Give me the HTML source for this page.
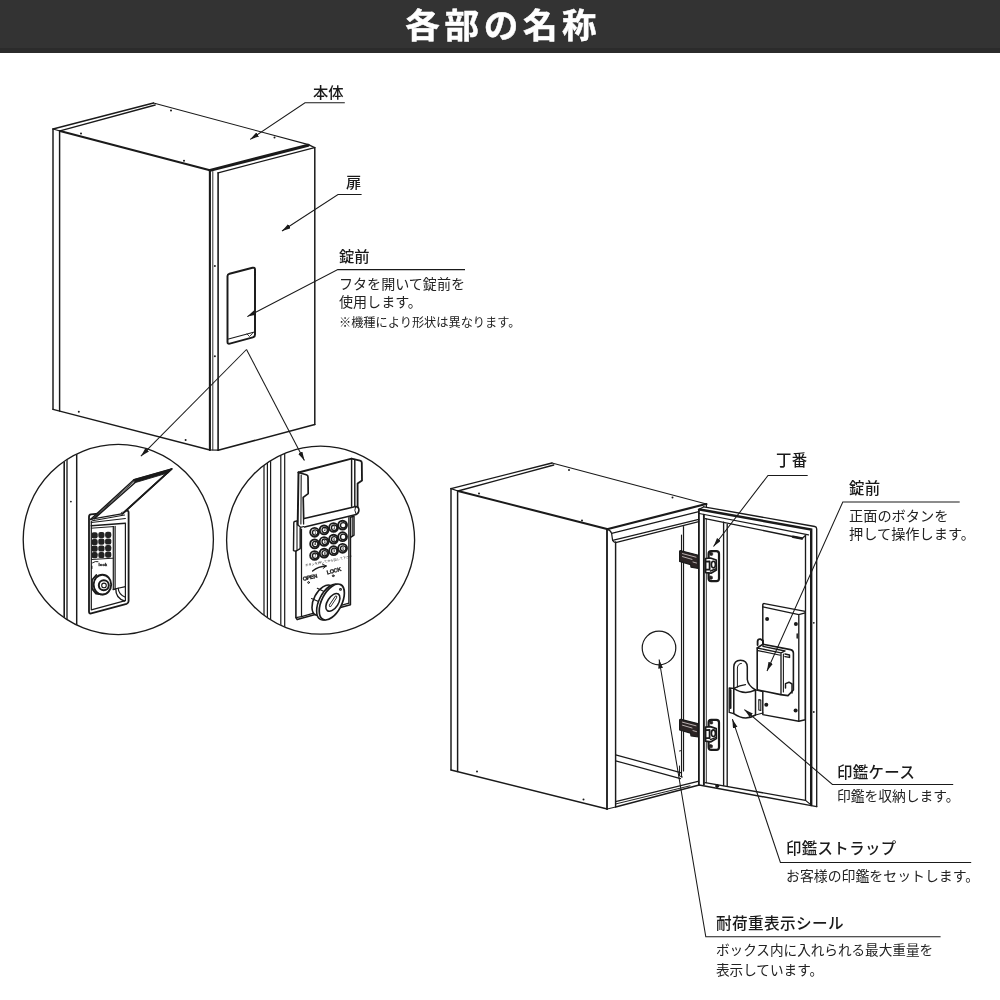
<!DOCTYPE html>
<html lang="ja">
<head>
<meta charset="utf-8">
<title>各部の名称</title>
<style>
html,body{margin:0;padding:0;background:#fff;}
body{width:1000px;height:1000px;position:relative;overflow:hidden;font-family:"Liberation Sans","Noto Sans CJK JP",sans-serif;color:#1a1a1a;}
#hd{position:absolute;left:0;top:0;width:1000px;height:53px;background:#333;}
#hd .bar{position:absolute;left:0;top:48px;width:1000px;height:5px;background:#2b2b2b;}
#hd h1{will-change:transform;position:absolute;left:0;top:0;width:1000px;margin:0;text-align:center;color:#fff;font-size:34.6px;font-weight:700;line-height:52px;letter-spacing:4.6px;text-indent:6.6px;-webkit-text-stroke:0.5px #fff;}
svg{position:absolute;left:0;top:0;}
.t{position:absolute;white-space:nowrap;line-height:1;will-change:transform;}
.n{font-size:15.3px;font-weight:500;}
.d{font-size:14.05px;font-weight:400;line-height:18px;color:#222;}
.r{font-size:15.4px;letter-spacing:0.4px;}
.s{font-size:12.2px;font-weight:400;color:#222;}
</style>
</head>
<body>
<div id="hd"><div class="bar"></div><h1>各部の名称</h1></div>
<svg width="1000" height="1000" viewBox="0 0 1000 1000">
<defs>
<marker id="ah" markerWidth="10" markerHeight="6" refX="9" refY="2.4" orient="auto" markerUnits="userSpaceOnUse"><path d="M0,0 L9,2.4 L0,4.8 z" fill="#1a1a1a" stroke="none"/></marker>
<clipPath id="c1"><circle cx="118.3" cy="539.5" r="94.8"/></clipPath>
<clipPath id="c2"><circle cx="320.6" cy="540.2" r="93.6"/></clipPath>
</defs>
<g id="box1" fill="none" stroke="#1a1a1a" stroke-width="1.22" stroke-linecap="round" stroke-linejoin="round">
<!-- BOX1 -->
<!-- top face -->
<path d="M153.5,103 L53,129 M155.2,105 L60,130.8" stroke-width="1.34"/>
<path d="M60,131 L209.9,170.2" stroke-width="2.07"/>
<path d="M153.5,103 L308.5,144.6" stroke-width="1.10"/>
<!-- left edge -->
<path d="M53,129 L53,409.3 M59.6,131 L59.6,411" stroke-width="1.46"/>
<path d="M53,129 L60,131"/>
<!-- bottom left -->
<path d="M53,409.3 L209.9,450" stroke-width="1.34"/>
<!-- front-left vertical -->
<path d="M209.9,170.2 L209.9,450" stroke-width="2.1"/>
<path d="M212.8,171.5 L212.8,450" stroke-width="0.9"/>
<path d="M218.1,172.8 L218.1,450.2" stroke-width="1.6"/>
<path d="M209.9,450 L218.1,450.2"/>
<!-- door top band -->
<path d="M210,170.4 L308.2,145.2" stroke-width="3"/>
<path d="M218.1,172.8 L314.6,147.6" stroke-width="1.3"/>
<path d="M308.5,144.6 L314.6,147.6" stroke-width="1.2"/>
<!-- right edge and door bottom -->
<path d="M314.8,147.6 L314.8,424.5" stroke-width="1.5"/>
<path d="M218.1,450.2 L314.8,424.5" stroke-width="1.46"/>
<!-- lock cover -->
<path d="M229.5,273.7 L252.5,267.8 Q255,267.2 255,269.5 L255,334.5 Q255,336.8 252.8,337.4 L229.8,343.6 Q227.5,344.2 227.5,342 L227.5,276 Q227.5,274.2 229.5,273.7 Z" stroke-width="1.95"/>
<path d="M228.5,339 L254.5,332" stroke-width="1.10"/>
<path d="M247,334 L249.5,336.5 L252.5,333.5" stroke-width="0.85"/>
<!-- rivets -->
<g fill="#1a1a1a" stroke="none">
<circle cx="171" cy="110.4" r="1"/><circle cx="81" cy="133.6" r="1"/><circle cx="184" cy="160.8" r="1"/><circle cx="274.5" cy="137.6" r="1"/>
<circle cx="214.9" cy="266" r="1"/><circle cx="214.9" cy="356.2" r="1"/>
<circle cx="78.8" cy="411.7" r="1"/><circle cx="185.6" cy="439.9" r="1"/>
</g>
</g>
<g id="circ1" fill="none" stroke="#1a1a1a" stroke-width="1.22" stroke-linecap="round" stroke-linejoin="round">
<!-- CIRC1 -->
<circle cx="118.3" cy="539.5" r="95.1" stroke-width="1.34"/>
<g clip-path="url(#c1)">
<path d="M64.2,440 L64.2,640" stroke-width="1.59"/>
<path d="M67,440 L67,640" stroke-width="1.34"/>
<path d="M76.7,440 L76.7,640" stroke-width="1.46"/>
<circle cx="70.9" cy="501.6" r="0.9" fill="#1a1a1a" stroke="none"/>
<!-- lock frame outer -->
<path d="M89,517 Q89,514.6 91,514.4 L126.5,510.6 Q128.6,510.4 128.6,512.5 L128.6,601 Q128.6,603.3 126.6,603.9 L91.2,613.4 Q89,614 89,611.6 Z" stroke-width="1.83" fill="#fff"/>
<!-- inner frame -->
<path d="M91.3,521 L91.3,609.8 L125.4,600.6 L125.4,524" stroke-width="1.22"/>
<path d="M91.3,525.8 L125.4,523.2" stroke-width="1.46"/>
<path d="M91.3,522.5 L125.4,518.5" stroke-width="1.10"/>
<path d="M91.3,528.2 L113.5,526.6" stroke-width="0.98"/>
<!-- divider -->
<path d="M113.3,526.5 L113.3,589.5 M115.1,526.3 L115.1,589" stroke-width="1.22"/>
<!-- keypad -->
<g fill="#222" stroke="none"><rect x="91.5" y="532.2" width="6.2" height="6.2" rx="2.2"/><rect x="98.3" y="531.9" width="6.2" height="6.2" rx="2.2"/><rect x="105.1" y="531.7" width="6.2" height="6.2" rx="2.2"/><rect x="91.5" y="538.9" width="6.2" height="6.2" rx="2.2"/><rect x="98.3" y="538.6" width="6.2" height="6.2" rx="2.2"/><rect x="105.1" y="538.4" width="6.2" height="6.2" rx="2.2"/><rect x="91.5" y="545.6" width="6.2" height="6.2" rx="2.2"/><rect x="98.3" y="545.4" width="6.2" height="6.2" rx="2.2"/><rect x="105.1" y="545.1" width="6.2" height="6.2" rx="2.2"/><rect x="91.5" y="552.1" width="6.2" height="6.2" rx="2.2"/><rect x="98.3" y="551.9" width="6.2" height="6.2" rx="2.2"/><rect x="105.1" y="551.6" width="6.2" height="6.2" rx="2.2"/></g>
<path d="M91.5,559.5 L113,558.2" stroke-width="0.98"/>
<!-- small marks -->
<text x="98.6" y="566.2" font-size="4.3" font-weight="700" fill="#1a1a1a" stroke="#1a1a1a" stroke-width="0.3" font-family="Liberation Sans, sans-serif">lock</text>
<path d="M92.5,562.8 Q95.5,560.8 98,561.6" stroke-width="0.98"/>
<path d="M91.8,566 L91.8,568.5" stroke-width="1.22"/>
<!-- cylinder -->
<path d="M96.3,575 L92,580 L92,588.6 L96,593.6 L103,594.6" stroke-width="1.8"/>
<ellipse cx="102.4" cy="584.6" rx="8.8" ry="9.8" stroke-width="1.9" fill="#fff"/>
<circle cx="103.8" cy="585.2" r="5" stroke-width="2"/>
<circle cx="104" cy="585.4" r="2.3" stroke-width="1.1"/>
<!-- bottom curved piece -->
<path d="M113.3,589.5 L115.8,588.8 Q115.5,598 124.5,601" stroke-width="1.34"/>
<path d="M118.2,588.2 Q118.6,594.5 125.4,597.2" stroke-width="1.22"/>
<path d="M115.8,588.8 L125.4,586.6" stroke-width="1.10"/>
<!-- lid -->
<path d="M90.7,519.4 L133.9,479.7 L171.7,468.9 L124,512.4" stroke-width="1.5" fill="#fff"/>
<path d="M171.7,468.9 L124,512.4" stroke-width="1.9"/>
<path d="M133.9,479.7 L171.7,468.9 L168.3,472.8 L134.9,482.7 Z" fill="#1a1a1a" stroke-width="0.9"/>
<path d="M94.3,518.6 L134.9,482.7" stroke-width="1.5"/>
<path d="M92.4,519.2 L134.3,481.2" stroke-width="0.9"/>
<path d="M90.7,519.4 L94.3,518.6 L123,513.6" stroke-width="1.2"/>
<path d="M92.5,520.8 L124.5,515" stroke-width="1.1"/>
<circle cx="122.3" cy="513.3" r="1.1" stroke-width="0.9"/>
</g>
</g>
<g id="circ2" fill="none" stroke="#1a1a1a" stroke-width="1.22" stroke-linecap="round" stroke-linejoin="round">
<!-- CIRC2 -->
<circle cx="320.6" cy="540.2" r="94" stroke-width="1.34"/>
<g clip-path="url(#c2)">
<path d="M264,440 L264,640 M267.4,440 L267.4,640 M270.6,440 L270.6,640" stroke-width="1.22"/>
<path d="M280.8,440 L280.8,640 M284.7,440 L284.7,640" stroke-width="1.22"/>
<!-- body panel -->
<path d="M295.9,551 L295.9,617.6 L297.2,619.6 L350.4,604.8 L350.4,517.2 L301.5,529 Z" fill="#fff" stroke="none"/>
<path d="M295.9,551 L295.9,617.6 L297.2,619.6 L350.4,604.8 L350.4,517.2" stroke-width="1.59"/>
<path d="M301.5,529 L301.5,616.6 M301.5,616.6 L349,603.2 M348.8,517.6 L348.8,603.2" stroke-width="1.22"/>
<path d="M295.9,617.6 L301.5,616.6" stroke-width="1.10"/>
<!-- left bracket -->
<path d="M298.3,520.6 L294.6,521.5 Q293.8,521.8 293.8,522.8 L293.5,550.6 L295.9,551.2 L300.2,548.6 L300.2,528" stroke-width="1.46" fill="#fff"/>
<path d="M297,521 L297,549.6" stroke-width="1.10"/>
<!-- right bracket -->
<path d="M350.4,517.2 L354,516 L354,535.2 L350.6,537.4" stroke-width="1.46"/>
<path d="M352.3,516.6 L352.3,536.2" stroke-width="0.98"/>
<!-- lid back plate -->
<path d="M298.5,472.5 L351.6,458.6 L360,460.6 Q361.8,461 361.8,462.8 L362,480.4 L357.6,483.6 L357.6,508.5 Q358.8,510.5 357.4,513.4 L356,515 L304.5,527.2 L297.7,524.8 Z" fill="#fff" stroke="none"/>
<path d="M298.5,472.5 L351.6,458.6 L360,460.6 Q361.8,461 361.8,462.8 L362,480.4 L357.6,483.6 L357.6,508.5" stroke-width="1.83"/>
<path d="M351.6,458.6 L351.6,506.2 M354.8,459.6 L354.8,506.8" stroke-width="1.46"/>
<path d="M298.5,472.5 L297.7,524.6" stroke-width="1.95"/>
<path d="M298.5,472.5 L306.3,474.8 Q308,475.3 308,477 L308.2,493.6 L303.2,497.4 L303.8,523.8" stroke-width="1.71"/>
<path d="M301.2,475 L300.9,524" stroke-width="1.10"/>
<path d="M297.7,524.8 L300.5,527.3 L303.8,526.5" stroke-width="1.22"/>
<!-- roll -->
<path d="M304.2,518.6 L355.6,506.6 Q358.6,506.4 358.9,509.8 Q359,513.2 356.2,514.6 L304.6,527" stroke-width="1.59" fill="#fff"/>
<path d="M355.6,506.6 Q353.6,510 356.2,514.6" stroke-width="0.98"/>
<!-- keypad -->
<circle cx="314.6" cy="532.3" r="4.4" fill="#fff" stroke-width="1.9"/><circle cx="315.2" cy="532.5" r="2.7" stroke-width="1.3"/><text x="315.2" y="533.8" font-size="3.6" font-weight="700" text-anchor="middle" fill="#1a1a1a" stroke="none" font-family="Liberation Sans, sans-serif">1</text><circle cx="324.1" cy="529.9" r="4.4" fill="#fff" stroke-width="1.9"/><circle cx="324.7" cy="530.1" r="2.7" stroke-width="1.3"/><text x="324.7" y="531.4" font-size="3.6" font-weight="700" text-anchor="middle" fill="#1a1a1a" stroke="none" font-family="Liberation Sans, sans-serif">2</text><circle cx="333.6" cy="527.5" r="4.4" fill="#fff" stroke-width="1.9"/><circle cx="334.2" cy="527.7" r="2.7" stroke-width="1.3"/><text x="334.2" y="529.0" font-size="3.6" font-weight="700" text-anchor="middle" fill="#1a1a1a" stroke="none" font-family="Liberation Sans, sans-serif">3</text><circle cx="342.6" cy="525.1" r="4.4" fill="#fff" stroke-width="1.9"/><circle cx="343.2" cy="525.3" r="2.7" stroke-width="1.3"/>
<circle cx="314.6" cy="543.9" r="4.4" fill="#fff" stroke-width="1.9"/><circle cx="315.2" cy="544.1" r="2.7" stroke-width="1.3"/><text x="315.2" y="545.4" font-size="3.6" font-weight="700" text-anchor="middle" fill="#1a1a1a" stroke="none" font-family="Liberation Sans, sans-serif">4</text><circle cx="324.1" cy="541.5" r="4.4" fill="#fff" stroke-width="1.9"/><circle cx="324.7" cy="541.7" r="2.7" stroke-width="1.3"/><text x="324.7" y="543.0" font-size="3.6" font-weight="700" text-anchor="middle" fill="#1a1a1a" stroke="none" font-family="Liberation Sans, sans-serif">5</text><circle cx="333.6" cy="539.1" r="4.4" fill="#fff" stroke-width="1.9"/><circle cx="334.2" cy="539.3" r="2.7" stroke-width="1.3"/><text x="334.2" y="540.6" font-size="3.6" font-weight="700" text-anchor="middle" fill="#1a1a1a" stroke="none" font-family="Liberation Sans, sans-serif">6</text><circle cx="342.6" cy="536.7" r="4.4" fill="#fff" stroke-width="1.9"/><circle cx="343.2" cy="536.9" r="2.7" stroke-width="1.3"/>
<circle cx="314.6" cy="555.5" r="4.4" fill="#fff" stroke-width="1.9"/><circle cx="315.2" cy="555.7" r="2.7" stroke-width="1.3"/><text x="315.2" y="557.0" font-size="3.6" font-weight="700" text-anchor="middle" fill="#1a1a1a" stroke="none" font-family="Liberation Sans, sans-serif">7</text><circle cx="324.1" cy="553.1" r="4.4" fill="#fff" stroke-width="1.9"/><circle cx="324.7" cy="553.3" r="2.7" stroke-width="1.3"/><text x="324.7" y="554.6" font-size="3.6" font-weight="700" text-anchor="middle" fill="#1a1a1a" stroke="none" font-family="Liberation Sans, sans-serif">8</text><circle cx="333.6" cy="550.7" r="4.4" fill="#fff" stroke-width="1.9"/><circle cx="334.2" cy="550.9" r="2.7" stroke-width="1.3"/><text x="334.2" y="552.2" font-size="3.6" font-weight="700" text-anchor="middle" fill="#1a1a1a" stroke="none" font-family="Liberation Sans, sans-serif">9</text><circle cx="342.6" cy="548.3" r="4.4" fill="#fff" stroke-width="1.9"/><circle cx="343.2" cy="548.5" r="2.7" stroke-width="1.3"/><text x="343.2" y="549.8" font-size="3.6" font-weight="700" text-anchor="middle" fill="#1a1a1a" stroke="none" font-family="Liberation Sans, sans-serif">0</text>
<!-- micro text and marks -->
<text transform="translate(305.6,566.6) rotate(-11)" font-size="3.1" fill="#1a1a1a" stroke="none" font-family="Liberation Sans, Noto Sans CJK JP, sans-serif" letter-spacing="0.1">ボタンを押してから回して下さい</text>
<path d="M312.6,571 Q318.5,566.2 326,566" stroke-width="1.46"/>
<path d="M322.6,564.3 L326.4,566 L323.2,568.4" stroke-width="0.98"/>
<text transform="translate(303.2,581) rotate(-14)" font-size="5.6" font-weight="700" fill="#1a1a1a" stroke="#1a1a1a" stroke-width="0.30" font-family="Liberation Sans, sans-serif" letter-spacing="-0.35">OPEN</text>
<text transform="translate(327.2,574.4) rotate(-14)" font-size="5.6" font-weight="700" fill="#1a1a1a" stroke="#1a1a1a" stroke-width="0.30" font-family="Liberation Sans, sans-serif" letter-spacing="-0.35">LOCK</text>
<circle cx="308.6" cy="582.5" r="0.9" stroke-width="0.98"/><circle cx="333.2" cy="575.8" r="0.9" stroke-width="0.98"/>
<!-- cylinder -->
<g transform="translate(323.2,600.2) rotate(-62)"><ellipse cx="0" cy="0" rx="16.5" ry="9.2" fill="#fff" stroke-width="1.59"/></g>
<path d="M311.5,598.5 L318.5,601.5 M317.3,588.2 L324,591.6" stroke-width="1.10"/>
<g transform="translate(329.2,602) rotate(-63)"><ellipse cx="0" cy="0" rx="19.5" ry="10" fill="#fff" stroke-width="1.59"/></g>
<g transform="translate(331.8,602) rotate(-63)"><ellipse cx="0" cy="0" rx="19.5" ry="10" fill="#fff" stroke-width="1.71"/></g>
<g transform="translate(332.9,602.4) rotate(-57)"><ellipse cx="0" cy="0" rx="10" ry="5.4" stroke-width="1.59"/></g>
<path d="M330.2,605.6 L335.9,597" stroke-width="2.73"/>
<path d="M330.2,605.6 L335.9,597" stroke="#fff" stroke-width="1.22"/>
<circle cx="340.5" cy="589.4" r="0.9" stroke-width="1.10"/>
</g>
</g>
<g id="box2" fill="none" stroke="#1a1a1a" stroke-width="1.22" stroke-linecap="round" stroke-linejoin="round">
<!-- BOX2 -->
<!-- top face -->
<path d="M552,463 L451,488.6 M553.8,465 L458,491" stroke-width="1.34"/>
<path d="M451,488.6 L458,491"/>
<path d="M458,491 L607,529" stroke-width="2.07"/>
<path d="M552,463 L706.4,504" stroke-width="1.10"/>
<!-- left edge -->
<path d="M451,488.6 L451,770 M457.6,491 L457.6,771.6" stroke-width="1.46"/>
<path d="M451,770 L607.2,809" stroke-width="1.34"/>
<!-- front-left vertical -->
<path d="M607,529 L607,809" stroke-width="1.83"/>
<path d="M615.6,542 L615.6,806.5" stroke-width="1.46"/>
<path d="M607.2,809 L615.6,807"/>
<!-- top band of opening -->
<path d="M607,529.2 L703,504.8 L706.4,504" stroke-width="2.20"/>
<path d="M607,529.2 Q610.6,530.4 611.6,533.4 L698.8,511.6" stroke-width="1.22"/>
<path d="M611.6,533.4 L612.6,540.4 L698.8,519.4" stroke-width="1.22"/>
<path d="M612.6,540.4 Q613.5,542 615.6,542.6 L698.8,521.6" stroke-width="1.22"/>
<path d="M706.4,504 L706.4,506.4" stroke-width="1.22"/>
<!-- interior -->
<path d="M683.5,526.5 L683.5,771" stroke-width="1.22"/>
<path d="M681.5,535 L681.5,777" stroke-width="1.10"/>
<path d="M615.6,754.8 L681.5,772.8 M615.6,760.8 L680.5,778.6" stroke-width="1.22"/>
<path d="M679.5,766 L679.5,776 L682.5,777 M679.5,751 L681.5,750.5" stroke-width="0.98"/>
<!-- bottom front -->
<path d="M615.6,801.6 L698,781.4" stroke-width="1.34"/>
<path d="M615.6,804 L690,785.8" stroke-width="0.98"/>
<path d="M615.6,807 L699.2,785" stroke-width="1.46"/>
<!-- sticker circle -->
<circle cx="659" cy="648" r="16.8" stroke-width="1.22"/>
<!-- door frame -->
<path d="M698.9,509.3 L698.9,785" stroke-width="1.8"/>
<path d="M703.9,514.6 L703.9,784.5" stroke-width="1.9"/>
<path d="M706.3,518.8 L706.3,782.8" stroke-width="0.9"/>
<path d="M703.8,506.8 L814.8,526.5 Q816.7,526.9 816.7,529 L816.7,806.6" stroke-width="1.34"/>
<path d="M699.2,509.3 L703.8,506.8"/>
<path d="M699.8,509.5 L811.2,529.6 L811.2,805" stroke-width="2.42" stroke-linejoin="miter"/>
<path d="M699.2,513.5 L808.5,534.8" stroke-width="1.22"/>
<path d="M705.2,518.6 L802,538.5 L805.5,535.6" stroke-width="1.34"/>
<path d="M793,536.7 L802,538.5" stroke-width="2.44"/>
<path d="M805.5,535.6 L805.5,800.4" stroke-width="1.34"/>
<path d="M699.2,785 L816.7,806.6" stroke-width="1.46"/>
<path d="M705.2,782.6 L805.5,800.4" stroke-width="1.34"/>
<path d="M805.5,800.4 L811.2,805" stroke-width="1.10"/>
<path d="M723.6,522.2 L723.6,785.6 M727.2,524.3 L727.2,786.4" stroke-width="1.34"/>
<circle cx="717.2" cy="786" r="1.5" fill="#1a1a1a" stroke-width="0.98"/>
<g fill="#1a1a1a" stroke="none">
<circle cx="569" cy="470" r="1"/><circle cx="479" cy="493.4" r="1"/><circle cx="582" cy="520.6" r="1"/><circle cx="672.5" cy="497.5" r="1"/>
<circle cx="477" cy="771.6" r="1"/><circle cx="583.5" cy="799.5" r="1"/>
<circle cx="813.8" cy="622.8" r="0.9"/><circle cx="813.8" cy="712" r="0.9"/>
</g>
<!-- hinges -->
<path d="M679.6,551.6 Q679.6,550.4 681,550.8 L697.6,555.0 L698.4,568.4 L691,567.2 L690.6,564.6 L679.6,561.4 Z" fill="#2b2424" stroke-width="1.2"/>
<path d="M682.5,553.6 L696,557.2 M682.5,556.6 L692,559.4 M693,562.0 L696.5,563.0" stroke="#c8c0c0" stroke-width="0.9"/>
<rect x="708.6" y="551.2" width="10.4" height="30" rx="2.6" stroke-width="2.2" fill="#fff"/>
<path d="M705.6,558.5 L710.5,558.0 L716.2,560.0 L716.4,570.0 L711,573.2 L705.6,572.6 Z" fill="#fff" stroke-width="1.7"/>
<ellipse cx="713.4" cy="564.6" rx="2" ry="3.3" stroke-width="1.6"/>
<path d="M705.8,561.6 L709.6,561.4 L709.6,569.6 L705.8,569.6" stroke-width="1.8"/>
<path d="M710.4,571.0 L715.6,569.0" stroke-width="1.4"/>
<rect x="709.9" y="552.6" width="2.8" height="2.8" rx="0.8" fill="#2b2424" stroke-width="0.6"/><rect x="709.4" y="576.2" width="3" height="3" rx="0.8" fill="#2b2424" stroke-width="0.6"/>
<path d="M679.6,720.2 Q679.6,719.0 681,719.4 L697.6,723.6 L698.4,737.0 L691,735.8 L690.6,733.2 L679.6,730.0 Z" fill="#2b2424" stroke-width="1.2"/>
<path d="M682.5,722.2 L696,725.8 M682.5,725.2 L692,728.0 M693,730.6 L696.5,731.6" stroke="#c8c0c0" stroke-width="0.9"/>
<rect x="708.6" y="719.8" width="10.4" height="30" rx="2.6" stroke-width="2.2" fill="#fff"/>
<path d="M705.6,727.1 L710.5,726.6 L716.2,728.6 L716.4,738.6 L711,741.8 L705.6,741.2 Z" fill="#fff" stroke-width="1.7"/>
<ellipse cx="713.4" cy="733.2" rx="2" ry="3.3" stroke-width="1.6"/>
<path d="M705.8,730.2 L709.6,730.0 L709.6,738.2 L705.8,738.2" stroke-width="1.8"/>
<path d="M710.4,739.6 L715.6,737.6" stroke-width="1.4"/>
<rect x="709.9" y="721.2" width="2.8" height="2.8" rx="0.8" fill="#2b2424" stroke-width="0.6"/><rect x="709.4" y="744.8" width="3" height="3" rx="0.8" fill="#2b2424" stroke-width="0.6"/>
<!-- lock back plate -->
<path d="M762.8,604.8 Q762.8,603.4 764.4,603.6 L805.2,611.4 L805.2,719.8 L798.8,721.2 L762.8,714.6 Z" fill="#fff" stroke-width="1.46"/>
<path d="M762.8,606.8 L798.8,614.6 L805.2,612.8 M798.8,614.6 L798.8,721.2" stroke-width="1.34"/>
<g fill="#1a1a1a" stroke="none"><circle cx="767.1" cy="618.9" r="2"/><circle cx="795.9" cy="624" r="2"/><circle cx="766.3" cy="704.8" r="2"/><circle cx="795.6" cy="710.4" r="2"/></g>
<path d="M797.2,634 L797.2,638" stroke-width="1.46"/>
<!-- lock box -->
<path d="M757.2,648 L763,644.2 L790.5,649.6 Q793.4,650.2 793.4,653 L793.4,690 L788,695.6 L780.6,694.6 L757.2,689.8 Z" fill="#fff" stroke-width="1.59"/>
<path d="M757.2,648 L781,652.8 L781,694.6 M763,644.2 L763,646.4 L785,651 L781,652.8" stroke-width="1.34"/>
<path d="M758,650.6 L780.4,655.2" stroke-width="1.10"/>
<path d="M783.4,654 L783.4,692" stroke-width="1.10"/>
<path d="M785,654 L789.5,655 L789.5,657.4 L785,656.6" stroke-width="1.46"/>
<path d="M785.5,688 L785.5,683.6 L789,682.2 L792,684 L792,693" stroke-width="1.46"/>
<path d="M757.6,641.4 Q757.8,638.6 760.6,639.2 L763,640.6 L763,644.2 M757.6,641.4 L757.6,645" stroke-width="1.83"/>
<!-- seal case -->
<path d="M733.8,690.5 L733.8,667 Q734,660.2 740.5,660.2 Q747.2,660.3 747.3,667 L747.3,679.5 Q748,685.5 755.5,690" stroke-width="1.5"/>
<path d="M737.4,687 L737.4,668 Q737.8,663.6 741.4,663.4" stroke-width="1"/>
<path d="M729.2,688 L733.8,688.4 L733.8,713.6 L729.2,712.4 Z" fill="#fff" stroke-width="1.3"/>
<path d="M730.5,690 L730.5,708" stroke-width="2"/>
<path d="M733.8,688.4 Q744,695.5 755.5,690 L755.5,715 Q745,721.5 733.8,713.6 Z" fill="#fff" stroke-width="1.5"/>
<path d="M733.8,688.4 Q740,685.4 745.5,684.6" stroke-width="1.2"/>
<path d="M755.5,690 L763,691.6 M755.5,715 L763,713" stroke-width="1.2"/>
<path d="M758.8,699.6 L760.8,700 L760.8,710.4 L758.8,710 Z" stroke-width="1.1"/>
</g>
<g id="leaders" fill="none" stroke="#1a1a1a" stroke-width="1.05">
<!-- LEADERS -->
<path d="M344.8,102.7 L305,102.7 L250.2,139.4" marker-end="url(#ah)"/>
<path d="M361.6,194.5 L338,194.5 L282,231" marker-end="url(#ah)"/>
<path d="M465,269.6 L337.8,269.6 L247.3,316.6" marker-end="url(#ah)"/>
<path d="M246.5,349.5 L140.9,456.2" marker-end="url(#ah)"/>
<path d="M246.5,349.5 L304.4,460.6" marker-end="url(#ah)"/>
<path d="M807.7,475.5 L768,475.5 L713.5,546.5" marker-end="url(#ah)"/>
<path d="M959.7,502 L842.8,502 L767,671" marker-end="url(#ah)"/>
<path d="M953.2,784.4 L832.4,784.4 L744.4,709.6" marker-end="url(#ah)"/>
<path d="M971.2,862.4 L780.4,862.4 L732.4,719.2" marker-end="url(#ah)"/>
<path d="M940.6,936.8 L705.8,936.8 L659.1,659.5" marker-end="url(#ah)"/>
</g>
</svg>
<!-- LABELS -->
<div class="t n" style="left:313px;top:85px;">本体</div>
<div class="t n" style="left:345.5px;top:175px;">扉</div>
<div class="t n" style="left:338.5px;top:249px;">錠前</div>
<div class="t d" style="left:338.5px;top:275.6px;line-height:17.7px;">フタを開いて錠前を<br>使用します。</div>
<div class="t s" style="left:338.5px;top:317px;">※機種により形状は異なります。</div>
<div class="t n r" style="left:776.3px;top:452.5px;">丁番</div>
<div class="t n r" style="left:848.5px;top:480.6px;">錠前</div>
<div class="t d" style="left:848.5px;top:507.3px;font-size:14.2px;">正面のボタンを<br>押して操作します。</div>
<div class="t n r" style="left:837px;top:765.3px;">印鑑ケース</div>
<div class="t d" style="left:837px;top:788.4px;font-size:13.75px;">印鑑を収納します。</div>
<div class="t n r" style="left:785.5px;top:840.8px;">印鑑ストラップ</div>
<div class="t d" style="left:785.5px;top:866.5px;font-size:13.9px;">お客様の印鑑をセットします。</div>
<div class="t n r" style="left:715.5px;top:916.4px;font-size:15.6px;">耐荷重表示シール</div>
<div class="t d" style="left:715.5px;top:940.6px;font-size:13.6px;line-height:19.8px;">ボックス内に入れられる最大重量を<br>表示しています。</div>
</body>
</html>
